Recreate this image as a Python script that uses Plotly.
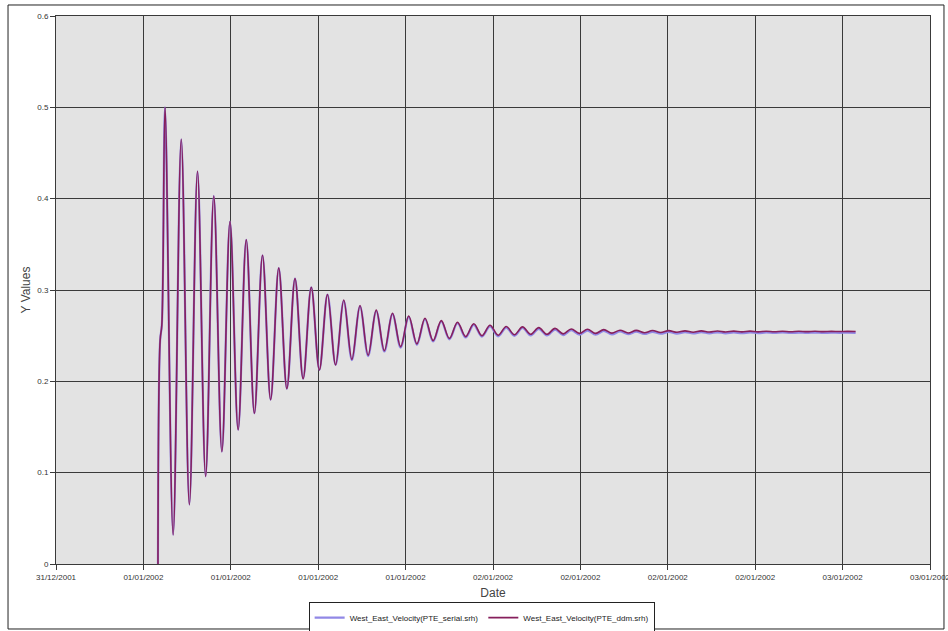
import pandas as pd
import plotly.graph_objects as go

# ---- data ----
onset_times = ["2002-01-01 01:00", "2002-01-01 01:09", "2002-01-01 01:16"]
onset_values = [0.0, 0.245, 0.262]

first_extremum = "2002-01-01 01:29"
half_period = "2008s"  # spacing between successive peaks/troughs

ddm_extrema = [
    0.500, 0.032, 0.465, 0.065, 0.430, 0.096, 0.403, 0.123, 0.375, 0.147,
    0.355, 0.165, 0.338, 0.180, 0.324, 0.192, 0.3125, 0.203, 0.303, 0.2125,
    0.295, 0.218, 0.289, 0.224, 0.283, 0.2286, 0.278, 0.2336, 0.2746, 0.238,
    0.2716, 0.241, 0.269, 0.2446, 0.2665, 0.247, 0.2647, 0.249, 0.263, 0.250,
    0.2614, 0.2505, 0.260, 0.251, 0.2596, 0.2515, 0.2588, 0.2515, 0.258, 0.252,
    0.2573, 0.2525, 0.257, 0.2525, 0.2566, 0.2528, 0.256, 0.253, 0.2558, 0.2532,
    0.2556, 0.2535, 0.2555, 0.2537, 0.2553, 0.2538, 0.2552, 0.254, 0.2551, 0.254,
    0.255, 0.2541, 0.255, 0.2542, 0.2549, 0.2543, 0.2549, 0.2543, 0.2548, 0.2544,
    0.2548, 0.2544, 0.2547, 0.2545, 0.2547, 0.2545,
]

serial_extrema = [
    0.500, 0.032, 0.465, 0.065, 0.430, 0.096, 0.403, 0.123, 0.375, 0.147,
    0.355, 0.165, 0.338, 0.180, 0.324, 0.192, 0.3125, 0.203, 0.303, 0.2125,
    0.295, 0.218, 0.288, 0.2232, 0.282, 0.2277, 0.277, 0.2327, 0.2736, 0.237,
    0.2706, 0.240, 0.268, 0.2436, 0.2655, 0.246, 0.2636, 0.248, 0.2619, 0.249,
    0.2602, 0.2493, 0.2588, 0.2498, 0.2584, 0.2502, 0.2575, 0.2502, 0.2567, 0.2507,
    0.2560, 0.2511, 0.2556, 0.2511, 0.2552, 0.2514, 0.2546, 0.2516, 0.2544, 0.2518,
    0.2542, 0.2521, 0.2541, 0.2523, 0.2539, 0.2524, 0.2538, 0.2526, 0.2537, 0.2526,
    0.2536, 0.2527, 0.2536, 0.2528, 0.2535, 0.2529, 0.2535, 0.2529, 0.2534, 0.2530,
    0.2534, 0.2530, 0.2533, 0.2531, 0.2533, 0.2531,
]

series_names = ["West_East_Velocity(PTE_serial.srh)", "West_East_Velocity(PTE_ddm.srh)"]
x_range = ["2001-12-31 18:00", "2002-01-03 06:00"]

# ---- build ----
ext_times = pd.date_range(first_extremum, periods=len(ddm_extrema), freq=half_period)
times = list(pd.to_datetime(onset_times)) + list(ext_times)
serial_y = onset_values + serial_extrema
ddm_y = onset_values + ddm_extrema

FONT = "Arial, Liberation Sans, sans-serif"
fig = go.Figure()
fig.add_trace(go.Scatter(x=times, y=serial_y, mode="lines", name=series_names[0],
                         line=dict(color="#9188E6", width=2.2, shape="spline", smoothing=1)))
fig.add_trace(go.Scatter(x=times, y=ddm_y, mode="lines", name=series_names[1],
                         line=dict(color="#861F5C", width=1.6, shape="spline", smoothing=1)))

fig.update_layout(
    width=948, height=631,
    margin=dict(l=56, r=18, t=16, b=67, autoexpand=False),
    paper_bgcolor="white",
    plot_bgcolor="#E3E3E3",
    font=dict(family=FONT, size=8, color="#333333"),
    showlegend=True,
    legend=dict(orientation="h", x=0.487, xanchor="center", y=-0.0695, yanchor="top",
                bordercolor="#222222", borderwidth=1, bgcolor="white",
                font=dict(size=8, color="#222222"), itemwidth=30, tracegroupgap=0),
    xaxis=dict(
        type="date", range=x_range, tick0=x_range[0], dtick=6 * 3600 * 1000,
        tickformat="%d/%m/%Y", showgrid=True, gridcolor="#3a3a3a", gridwidth=1,
        showline=True, linecolor="#3a3a3a", linewidth=1, mirror=True,
        ticks="outside", ticklen=5, tickcolor="#3a3a3a",
        tickfont=dict(size=8, color="#333333"), ticklabeloverflow="allow",
        title=dict(text="Date", font=dict(size=12, color="#444444"), standoff=8),
        zeroline=False,
    ),
    yaxis=dict(
        range=[0, 0.6], dtick=0.1, tick0=0, showgrid=True, gridcolor="#3a3a3a", gridwidth=1,
        showline=True, linecolor="#3a3a3a", linewidth=1, mirror=True,
        ticks="outside", ticklen=5, tickcolor="#3a3a3a",
        tickfont=dict(size=8, color="#333333"),
        title=dict(text="Y Values", font=dict(size=12, color="#444444"), standoff=4),
        zeroline=False,
    ),
    shapes=[dict(type="rect", xref="paper", yref="paper",
                 x0=-0.0549, x1=1.016, y0=-0.1186, y1=1.0201,
                 line=dict(color="#222222", width=1), fillcolor="rgba(0,0,0,0)", layer="below")],
)

fig.write_html("out.html")
